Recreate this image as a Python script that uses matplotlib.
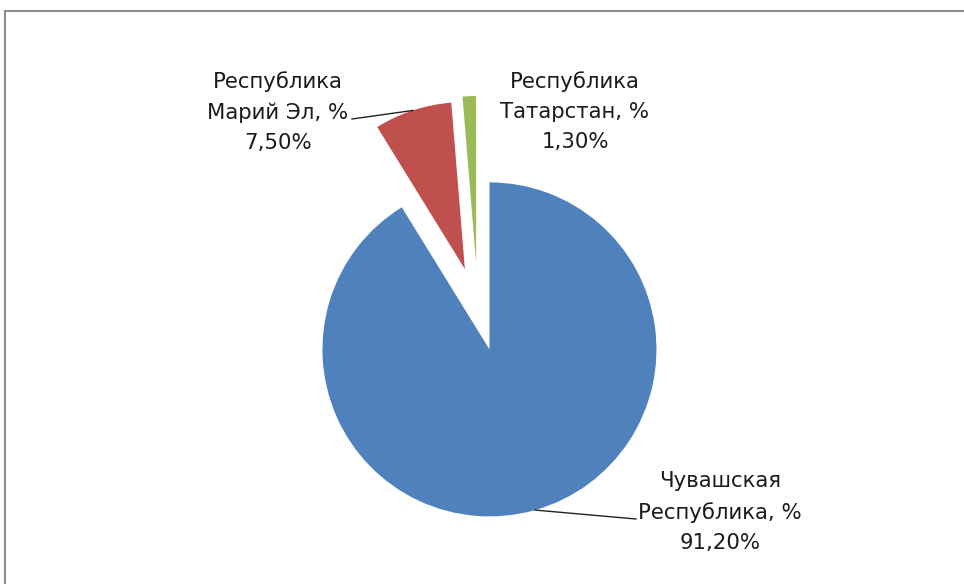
import numpy as np
import matplotlib.pyplot as plt
from matplotlib.lines import Line2D

# Доли регионов
regiony = ['Чувашская\nРеспублика, %', 'Республика\nМарий Эл, %', 'Республика\nТатарстан, %']
doli = [91.2, 7.5, 1.3]
podpisi_doli = ['91,20%', '7,50%', '1,30%']
cveta = ['#4F81BD', '#C0504D', '#9BBB59']

W, H = 964, 584
plt.rcParams['font.family'] = ['DejaVu Sans']

fig = plt.figure(figsize=(W / 100, H / 100), dpi=100)
ax = fig.add_axes([0, 0, 1, 1])

centr = (478, H - 309)
radius = 167
wedges, _ = ax.pie(
    doli,
    colors=cveta,
    startangle=90,
    counterclock=False,
    explode=[42, 42, 46],
    center=centr,
    radius=radius,
    frame=True,
)
ax.set_xlim(0, W)
ax.set_ylim(0, H)
ax.set_aspect('equal')
ax.axis('off')

# подписи: (x, y центра текста, точка начала выноски или None)
raspolozhenie = [
    (720, H - 512, (636, H - 519)),
    (278, H - 112, (352, H - 119)),
    (575, H - 112, None),
]
for w, reg, dol, (tx, ty, vyn) in zip(wedges, regiony, podpisi_doli, raspolozhenie):
    ax.text(tx, ty, reg + '\n' + dol, ha='center', va='center',
            fontsize=15.3, color='#1a1a1a', linespacing=1.63)
    if vyn is not None:
        ugol = np.deg2rad((w.theta1 + w.theta2) / 2)
        cx, cy = w.center
        px = cx + w.r * np.cos(ugol)
        py = cy + w.r * np.sin(ugol)
        ax.plot([px, vyn[0]], [py, vyn[1]], color='#222222', lw=1.0)

# рамка области диаграммы
fig.add_artist(Line2D([5 / W, 1], [1 - 11 / H, 1 - 11 / H], color='#8c8c8c', lw=1.5))
fig.add_artist(Line2D([5 / W, 5 / W], [0, 1 - 11 / H], color='#8c8c8c', lw=1.5))

fig.savefig('out.png', dpi=100)
